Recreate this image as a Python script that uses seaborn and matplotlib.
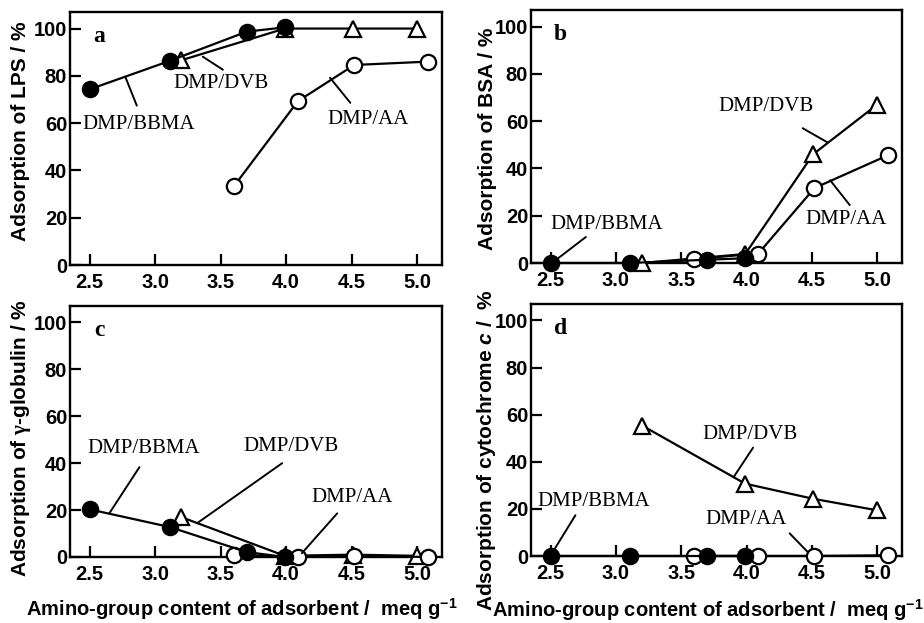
import matplotlib
matplotlib.use("Agg")
import matplotlib.pyplot as plt
import seaborn as sns
import pandas as pd

sns.set_theme(style="ticks")
plt.rcParams["font.family"] = ["Liberation Sans", "DejaVu Sans"]
plt.rcParams["font.weight"] = "bold"
plt.rcParams["mathtext.fontset"] = "custom"
plt.rcParams["mathtext.rm"] = "Liberation Serif"
plt.rcParams["mathtext.it"] = "Liberation Sans:bold:italic"
plt.rcParams["mathtext.bf"] = "Liberation Sans:bold"

# ---------------- data ----------------
series_names = ["DMP/BBMA", "DMP/DVB", "DMP/AA"]
bbma_x = [2.50, 3.11, 3.70, 3.99]
dvb_x = [3.20, 3.99, 4.51, 5.00]
aa_x = [3.60, 4.09, 4.52, 5.08]

lps_bbma = [74.3, 86.3, 98.7, 100.5]
lps_dvb = [86.6, 100.0, 100.0, 100.0]
lps_aa = [33.2, 69.3, 84.6, 86.0]

bsa_bbma = [0.0, 0.0, 1.4, 2.0]
bsa_dvb = [0.0, 3.8, 46.0, 67.0]
bsa_aa = [1.7, 4.0, 31.7, 45.5]

glob_bbma = [20.3, 12.8, 2.1, 0.0]
glob_dvb = [17.0, 0.5, 1.0, 0.5]
glob_aa = [1.0, 0.0, 0.5, 0.0]

cyt_bbma = [0.0, 0.0, 0.0, 0.0]
cyt_dvb = [55.4, 30.7, 24.3, 19.4]
cyt_aa = [0.0, 0.0, 0.0, 0.3]

x_ticks = [2.5, 3.0, 3.5, 4.0, 4.5, 5.0]
x_tick_labels = ["2.5", "3.0", "3.5", "4.0", "4.5", "5.0"]
y_ticks = [0, 20, 40, 60, 80, 100]
y_tick_labels = ["0", "20", "40", "60", "80", "100"]

panel_letters = ["a", "b", "c", "d"]
y_labels = [
    "Adsorption of LPS / %",
    "Adsorption of BSA / %",
    r"Adsorption of $\mathrm{\gamma}$-globulin / %",
    r"Adsorption of cytochrome $c$ /  %",
]
x_label = r"Amino-group content of adsorbent /  meq g$^{\mathbf{-1}}$"

panel_values = [
    (lps_bbma, lps_dvb, lps_aa),
    (bsa_bbma, bsa_dvb, bsa_aa),
    (glob_bbma, glob_dvb, glob_aa),
    (cyt_bbma, cyt_dvb, cyt_aa),
]

# ---------------- layout ----------------
W, H = 924, 623
axes_px = [  # left, top, right, bottom in pixels
    (70, 12, 442, 265),
    (531, 10, 902, 263),
    (70, 306, 442, 557),
    (531, 304, 902, 556),
]
ylabel_pos = [(-0.133, 0.53), (-0.117, 0.49), (-0.133, 0.475), (-0.121, 0.42)]
xlabel_pos = [None, None, (0.462, -0.207), (0.477, -0.214)]

# annotation layout: (text, text_xy, line_start, line_end)
annotations = [
    [("DMP/BBMA", (2.875, 59.3), (2.775, 79.2), (2.86, 67.4)),
     ("DMP/DVB", (3.50, 76.7), (3.364, 88.1), (3.517, 82.6)),
     ("DMP/AA", (4.625, 61.7), (4.335, 79.2), (4.49, 68.6))],
    [("DMP/BBMA", (2.93, 16.2), (2.77, 11.0), (2.52, 0.4)),
     ("DMP/DVB", (4.15, 66.0), (4.43, 57.0), (4.62, 51.0)),
     ("DMP/AA", (4.76, 18.4), (4.64, 35.0), (4.79, 24.5))],
    [("DMP/BBMA", (2.91, 46.2), (2.88, 38.3), (2.65, 18.6)),
     ("DMP/DVB", (4.04, 47.0), (3.97, 40.0), (3.32, 14.4)),
     ("DMP/AA", (4.50, 25.3), (4.39, 18.6), (4.12, 1.6))],
    [("DMP/BBMA", (2.83, 23.0), (2.69, 17.3), (2.51, 1.1)),
     ("DMP/DVB", (4.03, 51.8), (4.05, 46.0), (3.90, 33.4)),
     ("DMP/AA", (4.00, 15.4), (4.33, 9.6), (4.47, 1.6))],
]

styles = {
    "DMP/BBMA": dict(marker="o", markersize=11, markerfacecolor="black", zorder=6),
    "DMP/DVB": dict(marker="^", markersize=12, markerfacecolor="white", zorder=4),
    "DMP/AA": dict(marker="o", markersize=11, markerfacecolor="white", zorder=5),
}
xs = {"DMP/BBMA": bbma_x, "DMP/DVB": dvb_x, "DMP/AA": aa_x}

fig = plt.figure(figsize=(W / 100, H / 100), dpi=100)
fig.patch.set_facecolor("white")

for i, (l, t, r, b) in enumerate(axes_px):
    ax = fig.add_axes([l / W, 1 - b / H, (r - l) / W, (b - t) / H])
    ax.set_facecolor("white")
    vals = dict(zip(series_names, panel_values[i]))
    for name in ["DMP/DVB", "DMP/AA", "DMP/BBMA"]:
        df = pd.DataFrame({"x": xs[name], "y": vals[name]})
        st = styles[name]
        sns.lineplot(data=df, x="x", y="y", ax=ax, color="black", linewidth=1.6,
                     marker=st["marker"], markersize=st["markersize"],
                     markerfacecolor=st["markerfacecolor"], markeredgecolor="black",
                     markeredgewidth=1.6, zorder=st["zorder"], clip_on=False,
                     errorbar=None, sort=False)
    ax.set_xlim(2.35, 5.19)
    ax.set_ylim(0, 107)
    ax.set_xticks(x_ticks)
    ax.set_xticklabels(x_tick_labels)
    ax.set_yticks(y_ticks)
    ax.set_yticklabels(y_tick_labels)
    ax.tick_params(axis="both", direction="in", length=8, width=1.6, labelsize=14.5,
                   colors="black", top=False, right=False)
    ax.tick_params(axis="x", pad=6)
    ax.tick_params(axis="y", pad=2)
    for lab in ax.get_xticklabels() + ax.get_yticklabels():
        lab.set_fontweight("bold")
    for sp in ax.spines.values():
        sp.set_visible(True)
        sp.set_linewidth(1.7)
        sp.set_color("black")
    ax.grid(False)
    ax.set_ylabel(y_labels[i], fontsize=15, fontweight="bold", color="black")
    ax.yaxis.label.set_va("center")
    ax.yaxis.set_label_coords(*ylabel_pos[i])
    if xlabel_pos[i] is not None:
        ax.set_xlabel(x_label, fontsize=14.5, fontweight="bold", color="black")
        ax.xaxis.label.set_va("center")
        ax.xaxis.set_label_coords(*xlabel_pos[i])
    else:
        ax.set_xlabel("")
    ax.text(2.575, 96.5, panel_letters[i], fontsize=17, fontweight="bold",
            family="Liberation Serif", ha="center", va="center", color="black")
    for txt, pos, p0, p1 in annotations[i]:
        ax.text(pos[0], pos[1], txt, fontsize=15, family="Liberation Serif",
                fontweight="normal", ha="center", va="center", color="black", zorder=8)
        ax.annotate("", xy=p1, xytext=p0,
                    arrowprops=dict(arrowstyle="-", lw=1.4, color="black",
                                    shrinkA=0, shrinkB=0), zorder=7)

fig.savefig("out.png", dpi=100, facecolor="white")
